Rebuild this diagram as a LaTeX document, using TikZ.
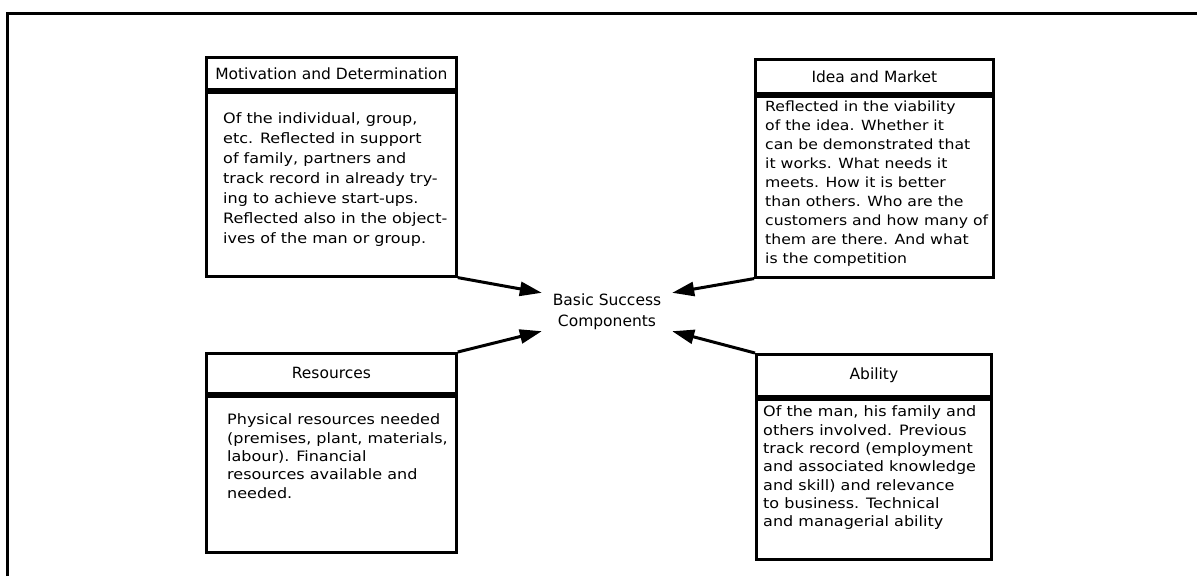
\documentclass[tikz,border=0pt]{standalone}
\usepackage{fontspec}
\setmainfont{DejaVu Sans}
\newfontfamily\bodyfont[FakeStretch=1.12]{DejaVu Sans}
\usetikzlibrary{arrows.meta, positioning}

\begin{document}
\begin{tikzpicture}[x=1pt, y=-1pt]
        \tikzset{compbox/.style = {rectangle, draw, line width=2.8pt, anchor=north west, inner sep=0pt, font=\fontsize{15.5}{18}\selectfont},
                 compbody/.style = {rectangle, draw, line width=2.8pt, anchor=north, inner sep=0pt},
                 comptext/.style = {inner sep=0pt, align=left, font=\bodyfont\fontsize{14.3}{19}\selectfont},
                 pointer/.style = {line width=3pt, -{Triangle[length=22pt, width=14pt]}}}
        \useasboundingbox (0,0) rectangle (1197,576);
        \draw[line width=3pt] (7,576) -- (7,13) -- (1197,13);

        % the four components
        \node (motiv) [compbox, minimum width=250pt, minimum height=32pt] at (205,56) {Motivation and Determination};
        \node (motivbody) [compbody, minimum width=250pt, minimum height=184pt] at (motiv.south) {};
        \node (motivtext) [comptext, font=\bodyfont\fontsize{14.3}{20}\selectfont, below right=22pt and 18pt of motivbody.north west] {
            Of the individual, group,\\
            etc. Reflected in support\\
            of family, partners and\\
            track record in already try-\\
            ing to achieve start-ups.\\
            Reflected also in the object-\\
            ives of the man or group.
        };

        \node (idea) [compbox, minimum width=238pt, minimum height=34pt] at (754,58) {Idea and Market};
        \node (ideabody) [compbody, minimum width=238pt, minimum height=181pt] at (idea.south) {};
        \node (ideatext) [comptext, font=\bodyfont\fontsize{14}{19}\selectfont, below right=6pt and 11pt of ideabody.north west] {
            Reflected in the viability\\
            of the idea. Whether it\\
            can be demonstrated that\\
            it works. What needs it\\
            meets. How it is better\\
            than others. Who are the\\
            customers and how many of\\
            them are there. And what\\
            is the competition
        };

        \node (resrc) [compbox, minimum width=250pt, minimum height=40pt] at (205,352) {Resources};
        \node (resrcbody) [compbody, minimum width=250pt, minimum height=156pt] at (resrc.south) {};
        \node (resrctext) [comptext, font=\bodyfont\fontsize{14.3}{18.3}\selectfont, below right=19pt and 22pt of resrcbody.north west] {
            Physical resources needed\\
            (premises, plant, materials,\\
            labour). Financial\\
            resources available and\\
            needed.
        };

        \node (abil) [compbox, minimum width=235pt, minimum height=42pt] at (755,353) {Ability};
        \node (abilbody) [compbody, minimum width=235pt, minimum height=160pt] at (abil.south) {};
        \node (abiltext) [comptext, font=\bodyfont\fontsize{14.3}{18.3}\selectfont, below right=8pt and 8pt of abilbody.north west] {
            Of the man, his family and\\
            others involved. Previous\\
            track record (employment\\
            and associated knowledge\\
            and skill) and relevance\\
            to business. Technical\\
            and managerial ability
        };

        % centre
        \node (core) [align=center, minimum width=130pt, minimum height=38pt, inner sep=0pt, font=\fontsize{15.5}{21}\selectfont] at (607,312) {Basic Success\\Components};

        \draw[pointer] (motivbody.south east) -- (core.north west);
        \draw[pointer] (ideabody.south west) -- (core.north east);
        \draw[pointer] (resrc.north east) -- (core.south west);
        \draw[pointer] (abil.north west) -- (core.south east);
\end{tikzpicture}
\end{document}
